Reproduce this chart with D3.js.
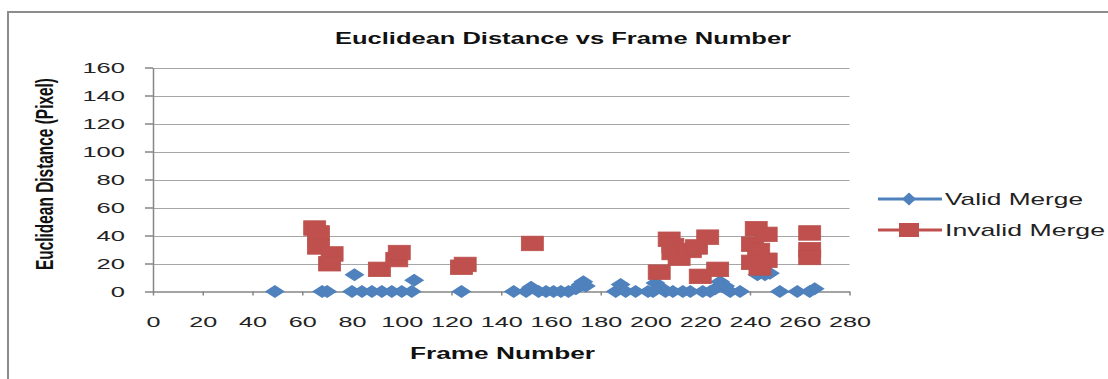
<!DOCTYPE html>
<html>
<head>
<meta charset="utf-8">
<script src="https://cdn.jsdelivr.net/npm/d3@7"></script>
<style>
  html, body { margin: 0; padding: 0; background: #ffffff; }
  svg { display: block; }
</style>
</head>
<body>
<svg id="chart" width="1108" height="379"></svg>
<script>
// ---- data ----
const titleText = "Euclidean Distance vs Frame Number";
const xTitle = "Frame Number";
const yTitle = "Euclidean Distance (Pixel)";
const seriesNames = ["Valid Merge", "Invalid Merge"];

const xTicks = [0, 20, 40, 60, 80, 100, 120, 140, 160, 180, 200, 220, 240, 260, 280];
const yTicks = [0, 20, 40, 60, 80, 100, 120, 140, 160];

// Valid Merge: frame numbers and distances
const validFrames = [49, 68, 70, 80, 81, 84, 88, 92, 96, 100, 104, 105, 124,
  145, 150, 152, 155, 158, 161, 164, 167, 170, 172, 173, 174,
  186, 188, 190, 194, 199, 201, 202, 204, 206, 209, 213, 216, 221, 224,
  226, 228, 230, 232, 236, 243, 246, 248, 252, 259, 264, 266];
const validDist = [0, 0, 0, 0, 12, 0, 0, 0, 0, 0, 0, 8, 0,
  0, 0, 3, 0, 0, 0, 0, 0, 2, 5, 7, 4,
  0, 5, 0, 0, 0, 0, 6, 3, 0, 0, 0, 0, 0, 0,
  2, 7, 4, 0, 0, 12, 12, 13, 0, 0, 0, 2];

// Invalid Merge: frame numbers and distances
const invalidFrames = [65, 66.5, 66.5, 72, 71, 91, 98, 99, 124, 125.5, 152.5,
  203.5, 207.5, 209, 209, 211.5, 216, 218.5, 223, 220, 227,
  242.5, 246.5, 241, 243.5, 241, 246.5, 244, 264, 264, 264];
const invalidDist = [45.5, 42, 32, 27, 20, 16, 23, 28, 17.5, 19.5, 34.5,
  14, 37.5, 33, 28, 24, 29.5, 32, 39, 11, 16,
  45, 41, 34, 29.5, 21, 22.5, 17, 42, 30, 24.5];

// ---- layout ----
const blue = "#4F81BD", red = "#C0504D";
const gridColor = "#a6a6a6", axisColor = "#868686";
const fontFam = "'Liberation Sans', Arial, sans-serif";

const svg = d3.select("#chart");
const x = d3.scaleLinear().domain([0, 280]).range([153, 849.5]);
const y = d3.scaleLinear().domain([0, 160]).range([291.5, 67.5]);

// chart frame
svg.append("rect").attr("x", 8).attr("y", 12).attr("width", 1200).attr("height", 420)
  .attr("fill", "none").attr("stroke", "#8c8c8c").attr("stroke-width", 2);

// gridlines
svg.append("g").selectAll("line").data(yTicks.filter(d => d > 0)).join("line")
  .attr("x1", x(0)).attr("x2", x(280))
  .attr("y1", d => Math.round(y(d)) + 0.5).attr("y2", d => Math.round(y(d)) + 0.5)
  .attr("stroke", gridColor).attr("stroke-width", 1);

// y axis
const yAxis = svg.append("g").attr("transform", `translate(${x(0)},0)`)
  .call(d3.axisLeft(y).tickValues(yTicks).tickSizeOuter(0).tickSizeInner(8).tickPadding(20));
yAxis.select(".domain").attr("stroke", axisColor).attr("stroke-width", 1.5);
yAxis.selectAll(".tick line").attr("stroke", axisColor).attr("stroke-width", 1.5);
yAxis.selectAll(".tick text")
  .attr("font-family", fontFam).attr("font-size", 14.5).attr("fill", "#222")
  .attr("dy", "0.36em")
  .attr("textLength", d => String(d).length * 14.2).attr("lengthAdjust", "spacingAndGlyphs");

// x axis
const xAxis = svg.append("g").attr("transform", `translate(0,${y(0)})`)
  .call(d3.axisBottom(x).tickValues(xTicks).tickSizeOuter(0).tickSizeInner(4));
xAxis.select(".domain").attr("stroke", axisColor).attr("stroke-width", 1.5);
xAxis.selectAll(".tick line").attr("stroke", axisColor).attr("stroke-width", 1.5);
xAxis.selectAll(".tick text")
  .attr("font-family", fontFam).attr("font-size", 14.5).attr("fill", "#222")
  .attr("y", 35).attr("dy", 0)
  .attr("textLength", d => String(d).length * 14).attr("lengthAdjust", "spacingAndGlyphs");

// markers
const diamond = (cx, cy, hw, hh) => `M${cx},${cy - hh}L${cx + hw},${cy}L${cx},${cy + hh}L${cx - hw},${cy}Z`;

svg.append("g").selectAll("path").data(validFrames.map((f, i) => [f, validDist[i]])).join("path")
  .attr("d", d => diamond(x(d[0]), y(d[1]), 10, 6.5))
  .attr("fill", blue);

svg.append("g").selectAll("rect").data(invalidFrames.map((f, i) => [f, invalidDist[i]])).join("rect")
  .attr("x", d => x(d[0]) - 11).attr("y", d => y(d[1]) - 7)
  .attr("width", 22).attr("height", 14.5)
  .attr("fill", red).attr("stroke", "#b9514d").attr("stroke-width", 0.8);

// title
svg.append("text").attr("x", 335).attr("y", 44)
  .attr("font-family", fontFam).attr("font-weight", "bold").attr("font-size", 16).attr("fill", "#111")
  .attr("textLength", 456).attr("lengthAdjust", "spacingAndGlyphs")
  .text(titleText);

// x title
svg.append("text").attr("x", 410).attr("y", 359)
  .attr("font-family", fontFam).attr("font-weight", "bold").attr("font-size", 16).attr("fill", "#111")
  .attr("textLength", 185).attr("lengthAdjust", "spacingAndGlyphs")
  .text(xTitle);

// y title (vertical, stretched horizontally like the reference)
svg.append("text")
  .attr("transform", "translate(53,174) scale(1.55,1) rotate(-90)")
  .attr("x", -96).attr("y", 0)
  .attr("font-family", fontFam).attr("font-weight", "bold").attr("font-size", 15).attr("fill", "#111")
  .attr("textLength", 192).attr("lengthAdjust", "spacingAndGlyphs")
  .text(yTitle);

// legend
const legendY = [199, 230];
const lg = svg.append("g");
[0, 1].forEach(i => {
  const col = i === 0 ? blue : red;
  lg.append("line").attr("x1", 878).attr("x2", 942).attr("y1", legendY[i]).attr("y2", legendY[i])
    .attr("stroke", col).attr("stroke-width", 3);
  if (i === 0) {
    lg.append("path").attr("d", diamond(909, legendY[i], 7, 6.5)).attr("fill", col);
  } else {
    lg.append("rect").attr("x", 899).attr("y", legendY[i] - 7).attr("width", 20).attr("height", 14).attr("fill", col);
  }
  lg.append("text").attr("x", 945).attr("y", legendY[i] + 6)
    .attr("font-family", fontFam).attr("font-size", 17).attr("fill", "#222")
    .attr("textLength", i === 0 ? 138 : 160).attr("lengthAdjust", "spacingAndGlyphs")
    .text(seriesNames[i]);
});
</script>
</body>
</html>
